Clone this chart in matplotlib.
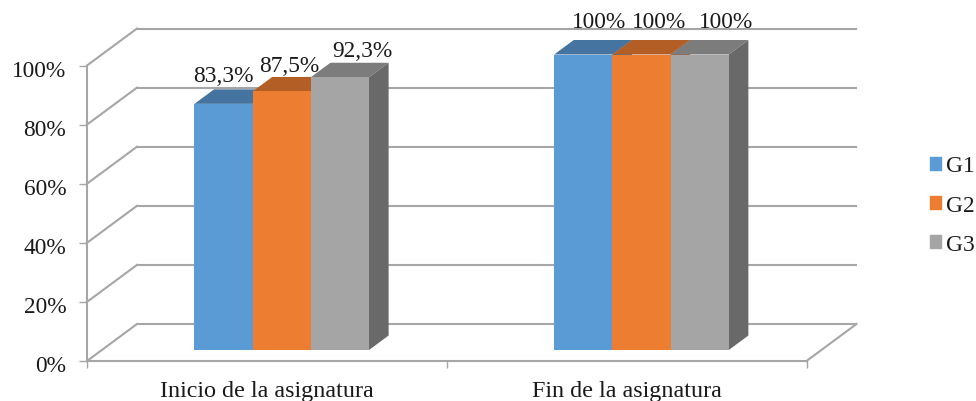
import matplotlib
matplotlib.use("Agg")
import matplotlib.pyplot as plt
import matplotlib.transforms as mtransforms
import numpy as np
from matplotlib.patches import Patch

categories = ["Inicio de la asignatura", "Fin de la asignatura"]
series = ["G1", "G2", "G3"]
g1 = [83.3, 100]
g2 = [87.5, 100]
g3 = [92.3, 100]
value_labels = [["83,3%", "100%"], ["87,5%", "100%"], ["92,3%", "100%"]]
y_ticks = [0, 20, 40, 60, 80, 100]

front_colors = ["#5B9BD5", "#ED7D31", "#A5A5A5"]
top_colors = ["#44749F", "#B25E25", "#7C7C7C"]
side_colors = ["#44749F", "#B25E25", "#696969"]
grid_color = "#A6A6A6"
text_color = "#1A1A1A"

# label nudges in pixels, the original labels were dragged by hand
label_dx = [[0, 16], [8, 18], [22, 26]]
label_dy = [[23, 28], [20, 28], [21, 28]]

plt.rcParams["font.family"] = ["Liberation Serif", "DejaVu Serif"]
plt.rcParams["font.size"] = 16.8

W, H = 976, 402
fig = plt.figure(figsize=(W / 100, H / 100), dpi=100)
ax = fig.add_axes([87 / W, (H - 362) / H, 719.5 / W, 295.5 / H])
ax.set_xlim(0, 2)
ax.set_ylim(0, 100)

# oblique projection, depth 1 = back wall
px_x = 719.5 / 2
px_y = 295.5 / 100
DX = 50 / px_x
DY = 37 / px_y
front_d = 0.297
back_d = 0.689


def shift(x, y, d):
    return x + d * DX, y + d * DY


# floor and walls
for t in y_ticks:
    x0, y0 = shift(0, t, 1)
    x1, y1 = shift(2, t, 1)
    ax.plot([x0, x1], [y0, y1], color=grid_color, lw=1.5, clip_on=False, zorder=1)
    ax.plot([0, x0], [t, y0], color=grid_color, lw=1.5, clip_on=False, zorder=1)
ax.plot([2, shift(2, 0, 1)[0]], [0, shift(2, 0, 1)[1]], color=grid_color, lw=1.5,
        clip_on=False, zorder=1)

# bars, drawn left to right so the neighbour covers the hidden faces
bar_w = 58.2 / px_x
centers = np.array([0.5, 1.5])
for i, vals in enumerate([g1, g2, g3]):
    for j, v in enumerate(vals):
        left = centers[j] + (i - 1.5) * bar_w
        right = left + bar_w
        fx, base = shift(left, 0, front_d)
        fxr, top = shift(right, v, front_d)
        bx, btop = shift(left, v, back_d)
        bxr, bbase = shift(right, 0, back_d)
        ax.fill([fx, fxr, bxr, bx], [top, top, btop, btop], color=top_colors[i],
                lw=0, clip_on=False, zorder=2 + i)
        ax.fill([fxr, bxr, bxr, fxr], [top, btop, bbase, base], color=side_colors[i],
                lw=0, clip_on=False, zorder=2 + i)
        ax.bar(fx, top - base, width=bar_w, bottom=base, align="edge",
               color=front_colors[i], lw=0, clip_on=False, zorder=2 + i)
        ax.annotate(value_labels[i][j], (fx + bar_w / 2, top), xytext=(label_dx[i][j] * 0.72, label_dy[i][j] * 0.72),
                    textcoords="offset points", ha="center", va="baseline",
                    color=text_color, annotation_clip=False, zorder=10)

for side in ["top", "right"]:
    ax.spines[side].set_visible(False)
for side in ["left", "bottom"]:
    ax.spines[side].set_color(grid_color)
    ax.spines[side].set_linewidth(1.5)

ax.set_yticks(y_ticks)
ax.set_yticklabels([f"{t}%" for t in y_ticks], color=text_color)
ax.tick_params(axis="y", length=6, width=1, color=grid_color, pad=9)
# the tick labels sit a little under their ticks
down = mtransforms.ScaledTranslation(0, -2.5 / 100, fig.dpi_scale_trans)
for lab in ax.get_yticklabels():
    lab.set_transform(lab.get_transform() + down)
ax.set_xticks([0, 1, 2])
ax.set_xticklabels([])
ax.tick_params(axis="x", which="major", length=5, width=1, color=grid_color)
ax.set_xticks(centers, minor=True)
ax.set_xticklabels(categories, minor=True, color=text_color, fontsize=17.4)
ax.tick_params(axis="x", which="minor", length=0, pad=13.5)

handles = [Patch(color=c, label=s) for c, s in zip(front_colors, series)]
fig.legend(handles=handles, loc="center left", bbox_to_anchor=(930 / W, 1 - 206 / H),
           frameon=False, borderpad=0, borderaxespad=0, handlelength=0.48,
           handleheight=0.48, handletextpad=0.22, labelspacing=0.78,
           labelcolor=text_color)

fig.savefig("out.png", dpi=100)
